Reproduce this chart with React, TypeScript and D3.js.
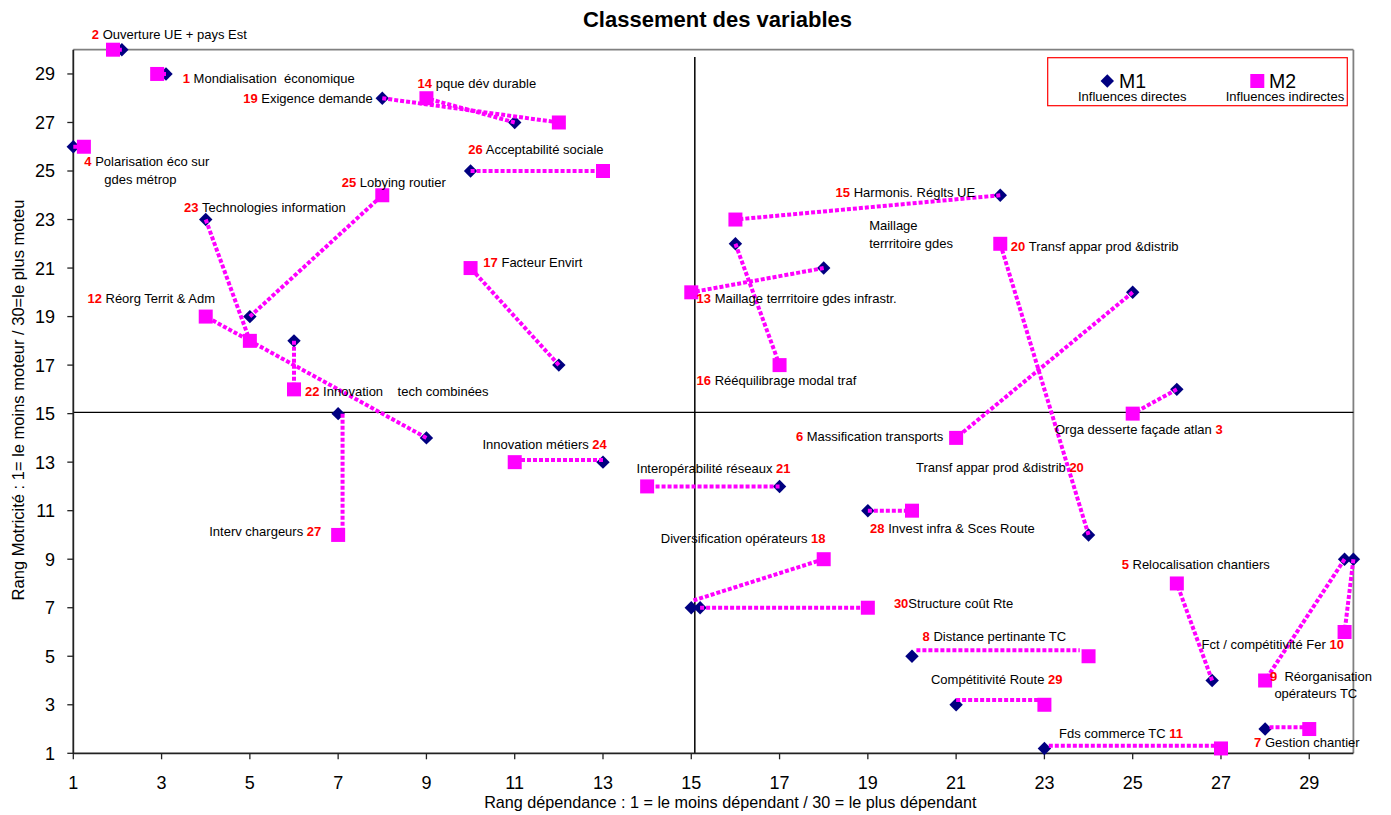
import React from 'react';
import * as d3 from 'd3';

// ---------- DATA ----------
const variableIds = [1, 2, 3, 4, 5, 6, 7, 8, 9, 10, 11, 12, 13, 14, 15, 16, 17, 18, 19, 20, 21, 22, 23, 24, 25, 26, 27, 28, 29, 30];
// M1 : influences directes (dependance rank, motricity rank)
const m1Dep = [3.1, 2.1, 26, 1, 26.8, 25, 28, 20, 29.8, 30, 23, 9, 18, 11, 22, 16, 12, 15, 8, 24, 17, 6, 4, 13, 5, 10, 7, 19, 21, 15.2];
const m1Mot = [29, 30, 16, 26, 4, 20, 2, 5, 9, 9, 1.2, 14, 21, 27, 24, 22, 17, 7, 28, 10, 12, 18, 23, 13, 19, 25, 15, 11, 3, 7];
// M2 : influences indirectes
const m2Dep = [2.9, 1.9, 25, 1.24, 26, 21, 29, 24, 28, 29.8, 27, 4, 15, 9, 16, 17, 10, 18, 12, 22, 14, 6, 5, 11, 8, 13, 7, 20, 23, 19];
const m2Mot = [29, 30, 15, 26, 8, 14, 2, 5, 4, 6, 1.2, 19, 20, 28, 23, 17, 21, 9, 27, 22, 12, 16, 18, 13, 24, 25, 10, 11, 3, 7];
// connector series (drawn separately in the source, a few are slightly offset)
const cStartDep = [3.1, 2.1, 26, 1, 26.8, 25, 28.1, 20.1, 29.8, 30, 23.1, 9, 18, 11, 22, 16, 12, 15.05, 8, 24, 17, 6, 4, 13, 5, 10, 7.1, 19, 21, 15.2];
const cStartMot = [29, 30, 16, 26, 4, 20, 2.07, 5.25, 9, 9, 1.31, 14, 21, 27, 24, 22, 17, 7.3, 28, 10, 12, 18, 23, 13.09, 19, 25, 15, 11, 3.2, 7];
const cEndDep = [2.9, 1.9, 25, 1.24, 26, 21, 29, 23.8, 28, 29.8, 27, 4, 15, 9, 16, 17, 10, 18, 12, 22, 14, 6, 5, 11, 8, 13, 7.1, 20, 23, 19];
const cEndMot = [29, 30, 15, 26, 8, 14, 2.07, 5.25, 4, 6, 1.31, 19, 20, 28, 23, 17, 21, 9, 27, 22, 12, 16, 18, 13.09, 24, 25, 10, 11, 3.2, 7];

const xTickValues = [1, 3, 5, 7, 9, 11, 13, 15, 17, 19, 21, 23, 25, 27, 29];
const yTickValues = [1, 3, 5, 7, 9, 11, 13, 15, 17, 19, 21, 23, 25, 27, 29];

const titleText = 'Classement des variables';
const xTitle = 'Rang dépendance : 1 = le moins dépendant / 30 = le plus dépendant';
const yTitle = 'Rang Motricité : 1= le moins moteur / 30=le plus moteu';
const legendNames = ['M1', 'M2'];
const legendSubs = ['Influences directes', 'Influences indirectes'];

// quadrant separators (data units)
const midDep = 15.08;
const midMot = 15.05;
const midTop = 29.7;

// annotations: number, text, number first?, anchor in data units
const annotations: { num: string; text: string; numFirst: boolean; at: [number, number] }[] = [
  { num: '2', text: ' Ouverture UE + pays Est', numFirst: true, at: [1.42, 30.46] },
  { num: '1', text: ' Mondialisation  économique', numFirst: true, at: [3.48, 28.62] },
  { num: '19', text: ' Exigence demande', numFirst: true, at: [4.85, 27.79] },
  { num: '14', text: ' pque dév durable', numFirst: true, at: [8.8, 28.41] },
  { num: '4', text: ' Polarisation éco sur', numFirst: true, at: [1.25, 25.22] },
  { num: '', text: 'gdes métrop', numFirst: true, at: [1.7, 24.45] },
  { num: '25', text: ' Lobying routier', numFirst: true, at: [7.08, 24.36] },
  { num: '23', text: ' Technologies information', numFirst: true, at: [3.51, 23.32] },
  { num: '26', text: ' Acceptabilité sociale', numFirst: true, at: [9.95, 25.7] },
  { num: '15', text: ' Harmonis. Réglts UE', numFirst: true, at: [18.27, 23.94] },
  { num: '', text: 'Maillage', numFirst: true, at: [19.03, 22.57] },
  { num: '', text: 'terrritoire gdes', numFirst: true, at: [19.03, 21.82] },
  { num: '20', text: ' Transf appar prod &distrib', numFirst: true, at: [22.24, 21.72] },
  { num: '17', text: ' Facteur Envirt', numFirst: true, at: [10.29, 21.06] },
  { num: '12', text: ' Réorg Territ & Adm', numFirst: true, at: [1.32, 19.55] },
  { num: '13', text: ' Maillage terrritoire gdes infrastr.', numFirst: true, at: [15.12, 19.55] },
  { num: '22', text: ' Innovation    tech combinées', numFirst: true, at: [6.25, 15.73] },
  { num: '16', text: ' Rééquilibrage modal traf', numFirst: true, at: [15.12, 16.18] },
  { num: '6', text: ' Massification transports', numFirst: true, at: [17.37, 13.89] },
  { num: '3', text: 'Orga desserte façade atlan ', numFirst: false, at: [23.24, 14.16] },
  { num: '24', text: 'Innovation métiers ', numFirst: false, at: [10.27, 13.53] },
  { num: '21', text: 'Interopérabilité réseaux ', numFirst: false, at: [13.76, 12.54] },
  { num: '20', text: 'Transf appar prod &distrib ', numFirst: false, at: [20.09, 12.61] },
  { num: '28', text: ' Invest infra & Sces Route', numFirst: true, at: [19.05, 10.09] },
  { num: '27', text: 'Interv chargeurs ', numFirst: false, at: [4.08, 9.96] },
  { num: '18', text: 'Diversification opérateurs ', numFirst: false, at: [14.31, 9.68] },
  { num: '5', text: ' Relocalisation chantiers', numFirst: true, at: [24.75, 8.58] },
  { num: '30', text: 'Structure coût Rte', numFirst: true, at: [19.59, 6.98] },
  { num: '8', text: ' Distance pertinante TC', numFirst: true, at: [20.24, 5.63] },
  { num: '10', text: 'Fct / compétitivité Fer ', numFirst: false, at: [26.56, 5.3] },
  { num: '9', text: '  Réorganisation', numFirst: true, at: [28.11, 3.98] },
  { num: '', text: 'opérateurs TC', numFirst: true, at: [28.21, 3.27] },
  { num: '29', text: 'Compétitivité Route ', numFirst: false, at: [20.43, 3.86] },
  { num: '11', text: 'Fds commerce TC ', numFirst: false, at: [23.33, 1.64] },
  { num: '7', text: ' Gestion chantier', numFirst: true, at: [27.75, 1.27] },
];

// ---------- STYLE ----------
const W = 1391;
const H = 815;
const FONT = '"Liberation Sans", Arial, Helvetica, sans-serif';
const NAVY = '#000080';
const MAGENTA = '#FF00FF';
const RED = '#FF0000';

export default function App() {
  const x = d3.scaleLinear().domain([1, 30]).range([73.3, 1353.4]);
  const y = d3.scaleLinear().domain([1, 30]).range([753.3, 49.7]);
  const [x0, x1] = x.range();
  const [y0, y1] = y.range();

  const diamond = d3.symbol(d3.symbolSquare, 90)()!;
  const square = d3.symbol(d3.symbolSquare, 196)()!;
  const line = d3.line<[number, number]>().x((d) => x(d[0])).y((d) => y(d[1]));

  const legendX = 1047.7;
  const legendY = 57.7;

  return (
    <svg width={W} height={H} style={{ position: 'absolute', left: 0, top: 0, display: 'block', background: '#fff' }} fontFamily={FONT}>
      <rect x={0} y={0} width={W} height={H} fill="#fff" />
      {/* title */}
      <text x={717.5} y={27} textAnchor="middle" fontSize={22} fontWeight="bold" fill="#000">{titleText}</text>

      {/* plot frame */}
      <line x1={x0} x2={x1} y1={y1} y2={y1} stroke="#808080" strokeWidth={1.8} />
      <line x1={x1} x2={x1} y1={y1} y2={y0} stroke="#808080" strokeWidth={1.8} />

      {/* quadrant lines */}
      <line x1={x0} x2={x1} y1={y(midMot)} y2={y(midMot)} stroke="#000" strokeWidth={1.3} />
      <line x1={x(midDep)} x2={x(midDep)} y1={y(midTop)} y2={y0} stroke="#000" strokeWidth={1.5} />

      {/* axes */}
      <line x1={x0} x2={x0} y1={y1} y2={y0 + 0.8} stroke="#222" strokeWidth={1.8} />
      <line x1={x0} x2={x1} y1={y0} y2={y0} stroke="#222" strokeWidth={1.8} />
      {xTickValues.map((v) => (
        <g key={'xt' + v}>
          <line x1={x(v)} x2={x(v)} y1={y0} y2={y0 + 6} stroke="#222" strokeWidth={1.3} />
          <text x={x(v)} y={789} textAnchor="middle" fontSize={18} fill="#000">{v}</text>
        </g>
      ))}
      {yTickValues.map((v) => (
        <g key={'yt' + v}>
          <line x1={x0 - 6} x2={x0} y1={y(v)} y2={y(v)} stroke="#222" strokeWidth={1.3} />
          <text x={55} y={y(v)} dy="0.36em" textAnchor="end" fontSize={18} fill="#000">{v}</text>
        </g>
      ))}
      <text x={730.3} y={808} textAnchor="middle" fontSize={16.2} fill="#000">{xTitle}</text>
      <text transform={`translate(23.5,400) rotate(-90)`} textAnchor="middle" fontSize={16.5} fill="#000">{yTitle}</text>

      {/* M1 diamonds */}
      {variableIds.map((id, i) => (
        <path key={'d' + id} d={diamond} transform={`translate(${x(m1Dep[i])},${y(m1Mot[i])}) rotate(45)`} fill={NAVY} />
      ))}
      {/* M2 squares */}
      {variableIds.map((id, i) => (
        <path key={'s' + id} d={square} transform={`translate(${x(m2Dep[i])},${y(m2Mot[i])})`} fill={MAGENTA} />
      ))}
      {/* connecting dotted lines */}
      {variableIds.map((id, i) => (
        <path
          key={'l' + id}
          d={line([[cStartDep[i], cStartMot[i]], [cEndDep[i], cEndMot[i]]])!}
          fill="none"
          stroke={MAGENTA}
          strokeWidth={4}
          strokeDasharray="4 2"
        />
      ))}

      {/* annotations */}
      {annotations.map((a, k) => (
        <text key={'a' + k} x={x(a.at[0])} y={y(a.at[1])} fontSize={13} fill="#000" style={{ whiteSpace: 'pre' }}>
          {a.numFirst ? (
            <>
              {a.num && <tspan fill={RED} fontWeight="bold">{a.num}</tspan>}
              <tspan>{a.text}</tspan>
            </>
          ) : (
            <>
              <tspan>{a.text}</tspan>
              <tspan fill={RED} fontWeight="bold">{a.num}</tspan>
            </>
          )}
        </text>
      ))}

      {/* legend */}
      <rect x={legendX} y={legendY} width={299.6} height={48} fill="#fff" stroke={RED} strokeWidth={1.2} />
      <path d={diamond} transform={`translate(1107.3,81) rotate(45)`} fill={NAVY} />
      <text x={1119} y={87.5} fontSize={19.5} fill="#000">{legendNames[0]}</text>
      <text x={1078} y={101} fontSize={13} fill="#000">{legendSubs[0]}</text>
      <path d={square} transform={`translate(1257.3,81)`} fill={MAGENTA} />
      <text x={1269} y={87.5} fontSize={19.5} fill="#000">{legendNames[1]}</text>
      <text x={1225.7} y={101} fontSize={13} fill="#000">{legendSubs[1]}</text>
    </svg>
  );
}
